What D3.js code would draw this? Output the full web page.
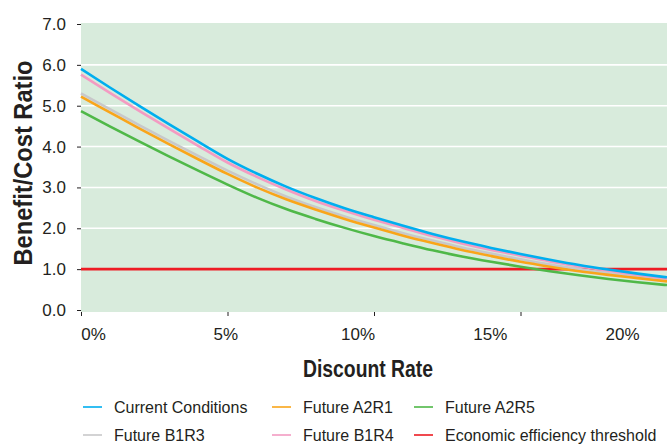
<!DOCTYPE html>
<html>
<head>
<meta charset="utf-8">
<script src="https://cdn.jsdelivr.net/npm/d3@7"></script>
<style>
  html, body { margin: 0; padding: 0; background: #ffffff; }
  svg { display: block; }
  text { font-family: "Liberation Sans", Arial, sans-serif; fill: #231f20; }
</style>
</head>
<body>
<svg id="chart" width="667" height="444"></svg>
<script>
// ---- data ----
const rates = [0,1,2,3,4,5,6,7,8,9,10,11,12,13,14,15,16,17,18,19,20];
const currentConditions = [5.90,5.44,4.99,4.55,4.12,3.70,3.34,3.02,2.74,2.49,2.27,2.06,1.86,1.68,1.52,1.37,1.23,1.10,0.99,0.89,0.80];
const futureB1R4 = [5.76,5.31,4.87,4.44,4.02,3.61,3.26,2.95,2.67,2.43,2.21,2.01,1.81,1.63,1.47,1.33,1.19,1.07,0.96,0.86,0.77];
const futureB1R3 = [5.30,4.91,4.52,4.14,3.77,3.41,3.08,2.78,2.52,2.29,2.08,1.88,1.70,1.53,1.38,1.24,1.11,1.00,0.90,0.82,0.74];
const futureA2R1 = [5.22,4.83,4.44,4.06,3.69,3.33,3.00,2.71,2.46,2.23,2.02,1.82,1.64,1.47,1.32,1.18,1.06,0.95,0.86,0.78,0.70];
const futureA2R5 = [4.87,4.49,4.12,3.76,3.41,3.07,2.75,2.47,2.23,2.01,1.81,1.63,1.46,1.31,1.18,1.06,0.95,0.85,0.76,0.68,0.61];
const threshold = 1.0;
const yTicks = [0,1,2,3,4,5,6,7];
const xTicks = [0,5,10,15,20];
const xTickLabels = ["0%","5%","10%","15%","20%"];
const seriesColors = {
  "Current Conditions": "#00aeef",
  "Future B1R3": "#c8c8ca",
  "Future A2R1": "#f9a51a",
  "Future B1R4": "#f39bc2",
  "Future A2R5": "#4fb848",
  "Economic efficiency threshold": "#ed1c24"
};
const seriesValues = {
  "Current Conditions": currentConditions,
  "Future B1R3": futureB1R3,
  "Future A2R1": futureA2R1,
  "Future B1R4": futureB1R4,
  "Future A2R5": futureA2R5
};

// ---- layout ----
const svg = d3.select("#chart");
const L = 81, R = 667, T = 24, B = 312;
const x = d3.scaleLinear().domain([0, 20]).range([L, R]);
const y = d3.scaleLinear().domain([0, 7]).range([310, T]);

// background
svg.append("rect").attr("x", L).attr("y", T - 1).attr("width", R - L).attr("height", B - T + 1)
  .attr("fill", "#d8ebdc");

// gridlines
svg.append("g").selectAll("line").data(yTicks.filter(d => d > 1 && d < 7)).join("line")
  .attr("x1", L).attr("x2", R).attr("y1", d => y(d)).attr("y2", d => y(d))
  .attr("stroke", "#ffffff").attr("stroke-width", 1.6);

// y axis
const yAxis = svg.append("g").attr("transform", `translate(${L},0)`)
  .call(d3.axisLeft(y).tickValues(yTicks).tickSize(4).tickPadding(11).tickFormat(d3.format(".1f")));
yAxis.select(".domain").remove();
yAxis.selectAll("line").attr("stroke", "#231f20");
yAxis.selectAll("text").style("font-size", "17px").attr("fill", "#231f20");

// x axis ticks
const xAxis = svg.append("g").attr("transform", `translate(0,${B})`)
  .call(d3.axisBottom(x).tickValues(xTicks).tickSize(4).tickFormat(""));
xAxis.select(".domain").remove();
xAxis.selectAll("line").attr("stroke", "#231f20");

// x labels (offset from ticks, as in the original)
const xl = d3.scalePoint().domain(xTickLabels).range([93, 622]);
const xLab = svg.append("g").attr("transform", `translate(0,${B})`)
  .call(d3.axisBottom(xl).tickSize(0).tickPadding(16));
xLab.select(".domain").remove();
xLab.selectAll("text").style("font-size", "17px").attr("fill", "#231f20");

// threshold
svg.append("line").attr("x1", L).attr("x2", R).attr("y1", y(threshold)).attr("y2", y(threshold))
  .attr("stroke", seriesColors["Economic efficiency threshold"]).attr("stroke-width", 2.6);

// series lines
const line = d3.line().x((d, i) => x(rates[i])).y(d => y(d)).curve(d3.curveMonotoneX);
const drawOrder = ["Future B1R3", "Future A2R5", "Future A2R1", "Future B1R4", "Current Conditions"];
svg.append("g").selectAll("path").data(drawOrder).join("path")
  .attr("d", k => line(seriesValues[k]))
  .attr("fill", "none").attr("stroke", k => seriesColors[k]).attr("stroke-width", 2.6)
  .attr("stroke-linejoin", "round");

// axis titles
svg.append("text").attr("x", 368).attr("y", 377).attr("text-anchor", "middle")
  .attr("textLength", 130).attr("lengthAdjust", "spacingAndGlyphs")
  .style("font-size", "24px").style("font-weight", "bold").text("Discount Rate");
svg.append("text").attr("transform", "translate(32,163) rotate(-90)").attr("text-anchor", "middle")
  .attr("textLength", 205).attr("lengthAdjust", "spacingAndGlyphs")
  .style("font-size", "25px").style("font-weight", "bold").text("Benefit/Cost Ratio");

// legend
const legendItems = [
  {name: "Current Conditions", col: 0, row: 0},
  {name: "Future A2R1", col: 1, row: 0},
  {name: "Future A2R5", col: 2, row: 0},
  {name: "Future B1R3", col: 0, row: 1},
  {name: "Future B1R4", col: 1, row: 1},
  {name: "Economic efficiency threshold", col: 2, row: 1}
];
const colX = [83, 272, 414];
const rowY = [407, 435];
const lg = svg.append("g").selectAll("g").data(legendItems).join("g")
  .attr("transform", d => `translate(${colX[d.col]},${rowY[d.row]})`);
lg.append("line").attr("x1", 0).attr("x2", 19).attr("y1", 0).attr("y2", 0)
  .attr("stroke", d => seriesColors[d.name]).attr("stroke-width", 1.6);
lg.append("text").attr("x", 31).attr("y", 6).style("font-size", "16px").text(d => d.name);
</script>
</body>
</html>
